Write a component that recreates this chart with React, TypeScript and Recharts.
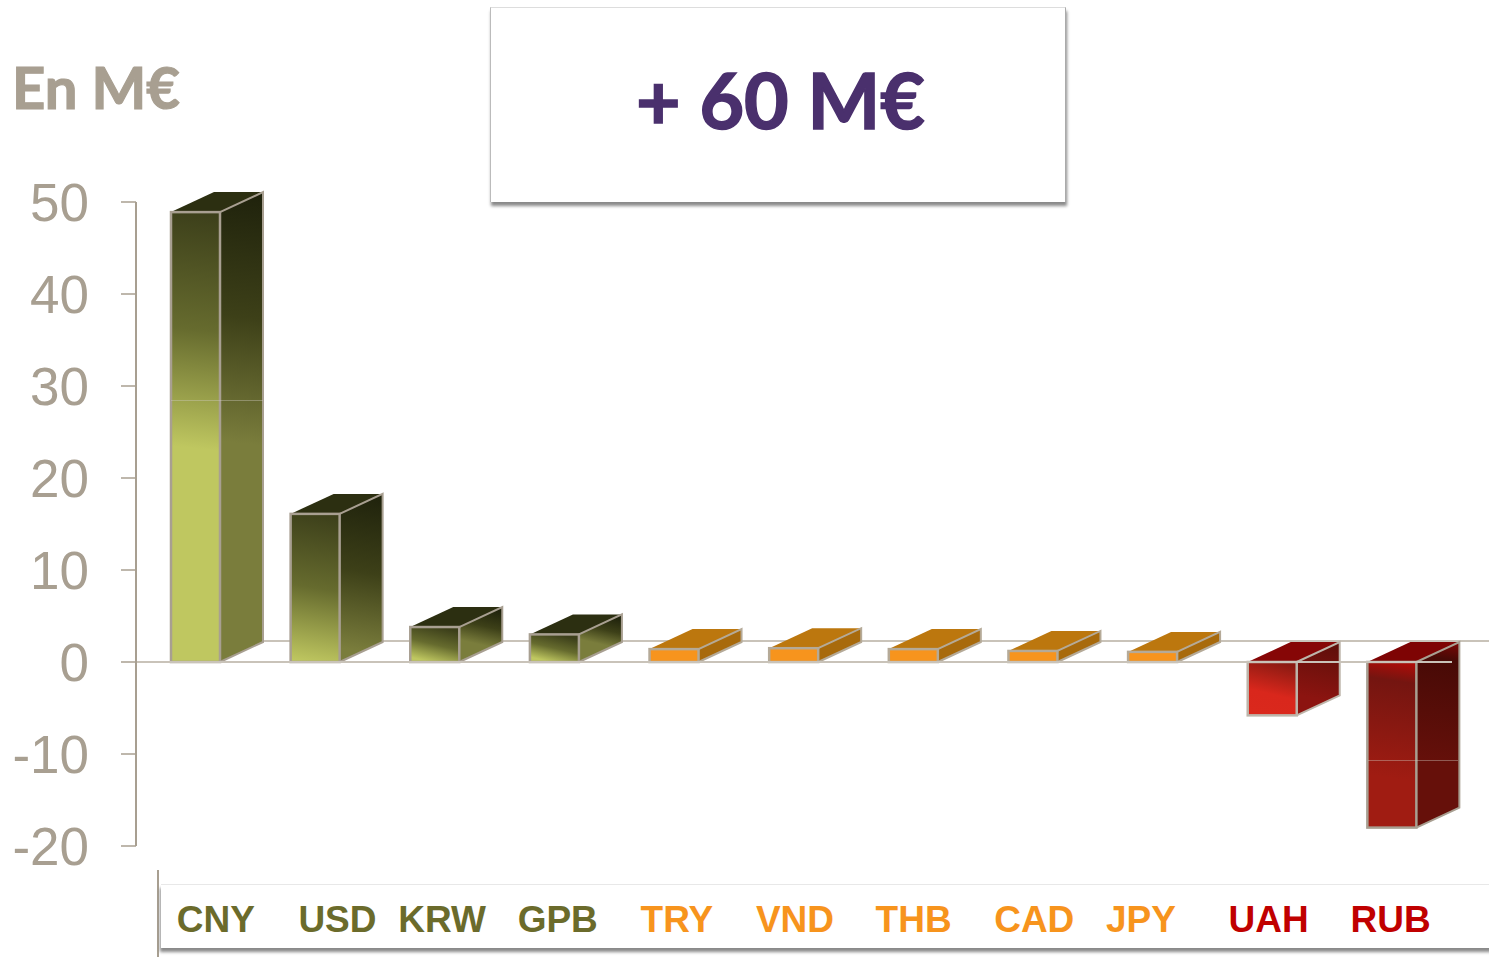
import React from "react";
import { BarChart, Bar, XAxis, YAxis, ReferenceLine } from "recharts";

const categories = ["CNY", "USD", "KRW", "GPB", "TRY", "VND", "THB", "CAD", "JPY", "UAH", "RUB"];
const values = [48.9, 16.1, 3.8, 3.0, 1.4, 1.5, 1.4, 1.2, 1.1, -5.8, -18.0];
const groups = ["green", "green", "green", "green", "orange", "orange", "orange", "orange", "orange", "ember", "crimson"];
const yTicks = [-20, -10, 0, 10, 20, 30, 40, 50];

const labelNudges = [20, 22, 7, 3, 2.5, 1, 0, 1, -12, -4, -1.5];

const data = categories.map((name, i) => ({ name, value: values[i], group: groups[i] }));

const GREY = "#A89F91";
const DEPTH_X = 43;
const DEPTH_Y = 20;

type Palette = {
  label: string;
  front: [number, string][];
  side: [number, string][];
  top: string;
  reach: number;
  outline: string;
};

const palettes: Record<string, Palette> = {
  green: {
    label: "#6B6B2B",
    front: [[0, "#3C3F1A"], [0.5, "#666B2E"], [1, "#BFC760"]],
    side: [[0, "#1F220C"], [0.5, "#3D4018"], [1, "#7A7D3C"]],
    top: "#2C2F11",
    reach: 235,
    outline: GREY,
  },
  orange: {
    label: "#F7941D",
    front: [[0, "#F7941D"], [1, "#F7941D"]],
    side: [[0, "#A86A0C"], [1, "#A86A0C"]],
    top: "#BC770E",
    reach: 40,
    outline: "#B5AA98",
  },
  ember: {
    label: "#C00000",
    front: [[0, "#8A1A12"], [0.6, "#D9271C"], [1, "#DA281C"]],
    side: [[0, "#5E0F0A"], [1, "#8C1410"]],
    top: "#860606",
    reach: 60,
    outline: "#BDB5AA",
  },
  crimson: {
    label: "#C00000",
    front: [[0, "#B00C08"], [0.12, "#741510"], [0.7, "#A01C12"], [1, "#A01C12"]],
    side: [[0, "#7A0806"], [0.1, "#470A06"], [0.7, "#66100A"], [1, "#66100A"]],
    top: "#7E0404",
    reach: 165,
    outline: GREY,
  },
};

function stops(list: [number, string][]) {
  return list.map(([o, c]) => <stop key={o} offset={o} stopColor={c} />);
}

function Box3D(props: any) {
  const { x, y, width, height, index } = props;
  const p = palettes[groups[index]];
  const top = Math.min(y, y + height);
  const bottom = Math.max(y, y + height);
  const right = x + width;
  const h = bottom - top;
  const reach = Math.min(p.reach, h);
  const sideReach = Math.min(p.reach + 15, h * 1.05);
  const tilt = Math.min(width * 0.25, reach * 0.12);
  return (
    <g>
      <defs>
        <linearGradient id={`front${index}`} gradientUnits="userSpaceOnUse"
          x1={x + width / 2 + tilt} y1={top} x2={x + width / 2 - tilt} y2={top + reach}>
          {stops(p.front)}
        </linearGradient>
        <linearGradient id={`side${index}`} gradientUnits="userSpaceOnUse"
          x1={right + DEPTH_X / 2 + tilt} y1={top - DEPTH_Y} x2={right + DEPTH_X / 2 - tilt} y2={top - DEPTH_Y + sideReach}>
          {stops(p.side)}
        </linearGradient>
      </defs>
      <polygon
        points={`${x},${top} ${x + DEPTH_X},${top - DEPTH_Y} ${right + DEPTH_X},${top - DEPTH_Y} ${right},${top}`}
        fill={p.top}
      />
      <polygon
        points={`${right},${top} ${right + DEPTH_X},${top - DEPTH_Y} ${right + DEPTH_X},${bottom - DEPTH_Y} ${right},${bottom}`}
        fill={`url(#side${index})`}
      />
      <polyline
        points={`${right},${top} ${right + DEPTH_X},${top - DEPTH_Y} ${right + DEPTH_X},${bottom - DEPTH_Y} ${right},${bottom}`}
        fill="none" stroke={p.outline} strokeWidth={2}
      />
      <rect x={x} y={top} width={width} height={h} fill={`url(#front${index})`} stroke={p.outline} strokeWidth={2.5} />
    </g>
  );
}

function CurrencyTick(props: any) {
  const { x, y, payload, index } = props;
  const i = payload?.index ?? index;
  return (
    <text x={x + labelNudges[i]} y={y} textAnchor="middle"
      fontFamily="'Liberation Sans', Arial, sans-serif" fontWeight={700} fontSize={37}
      fill={palettes[groups[i]].label}>
      {payload.value}
    </text>
  );
}

const abs = (style: React.CSSProperties): React.CSSProperties => ({ position: "absolute", ...style });

export default function App() {
  return (
    <div style={abs({ left: 0, top: 0, width: 1489, height: 957, overflow: "hidden", background: "#fff" })}>
      {/* back wall floor line */}
      <div style={abs({ left: 171, top: 640, width: 1318, height: 2, background: "#C9C3B9" })} />
      {/* category panel */}
      <div style={abs({ left: 157, top: 870, width: 2, height: 87, background: GREY })} />
      <div style={abs({
        left: 161, top: 884, width: 1340, height: 63, background: "#fff",
        borderTop: "1px solid #E8E8E8",
        boxShadow: "-1px 4px 3px #8A8A8A",
      })} />
      {/* headline box */}
      <div style={abs({
        left: 490, top: 7, width: 574, height: 194, background: "#fff",
        borderTop: "1px solid #DDD", borderLeft: "1px solid #BBB", borderRight: "1px solid #AAA",
        boxShadow: "1px 4px 3px #8A8A8A",
      })} />
      <div style={abs({
        left: 490, top: 4, width: 581, height: 190, textAlign: "center", lineHeight: "190px",
        fontFamily: "Lato, sans-serif", fontWeight: 700, fontSize: 77, color: "#4A306D", whiteSpace: "nowrap",
        WebkitTextStroke: "1.5px #4A306D",
      })}>+ 60 M€</div>
      <div style={abs({
        left: 12, top: 54, lineHeight: "66px",
        fontFamily: "Lato, sans-serif", fontWeight: 700, fontSize: 58, color: GREY, whiteSpace: "nowrap",
        WebkitTextStroke: "1.2px " + GREY,
      })}>En M€</div>

      <div style={abs({ left: 0, top: 0 })}>
        <BarChart width={1489} height={957} data={data} barSize={49}
          margin={{ top: 202, right: 37, bottom: 0, left: 1 }}>
          <XAxis dataKey="name" height={111} axisLine={false} tickLine={false} interval={0}
            tick={<CurrencyTick />} tickMargin={80} />
          <YAxis width={135} domain={[-20, 50]} ticks={yTicks} interval={0}
            axisLine={{ stroke: GREY, strokeWidth: 2 }}
            tickLine={{ stroke: GREY, strokeWidth: 1.5 }} tickSize={15} tickMargin={32}
            tick={{ fill: GREY, fontSize: 53, fontFamily: "'Liberation Sans', Arial, sans-serif" }} />
          <ReferenceLine y={0} stroke="#C9C3B9" strokeWidth={2} />
          <Bar dataKey="value" shape={<Box3D />} isAnimationActive={false} />
        </BarChart>
      </div>

      {/* faint picture seams across the two tallest bars */}
      <div style={abs({ left: 171, top: 400, width: 92, height: 1, background: "rgba(210,205,195,0.4)" })} />
      <div style={abs({ left: 1368, top: 760, width: 90, height: 1, background: "rgba(210,205,195,0.4)" })} />
    </div>
  );
}
